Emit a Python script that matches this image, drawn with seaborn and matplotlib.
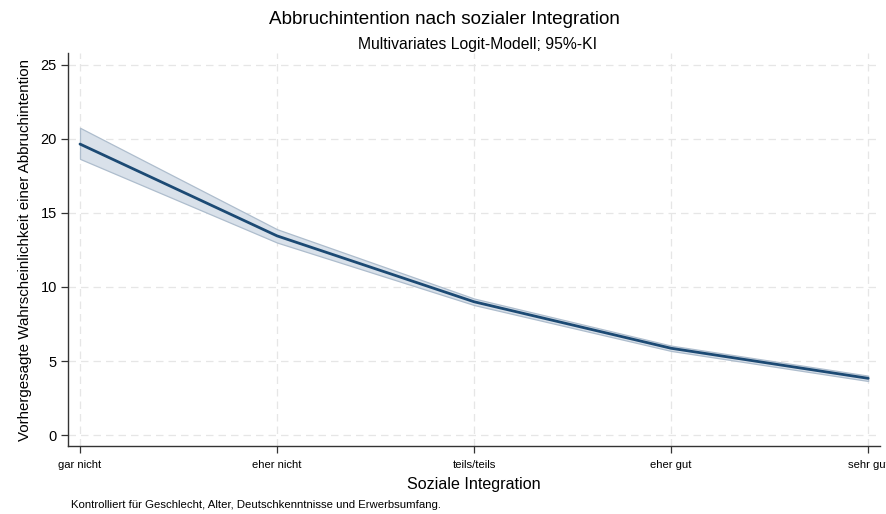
import matplotlib
matplotlib.use("Agg")
import matplotlib.pyplot as plt
import seaborn as sns
import pandas as pd
import numpy as np

# Predicted probabilities (%) with 95% confidence bounds
categories = ["gar nicht", "eher nicht", "teils/teils", "eher gut", "sehr gut"]
predicted = [19.65, 13.45, 9.0, 5.86, 3.83]
ci_lower = [18.65, 13.0, 8.78, 5.68, 3.65]
ci_upper = [20.75, 13.9, 9.22, 6.04, 4.01]
y_ticks = [0, 5, 10, 15, 20, 25]

df = pd.DataFrame({
    "pos": np.arange(len(categories)),
    "pred": predicted,
    "lo": ci_lower,
    "hi": ci_upper,
})

sns.set_theme(style="white")
plt.rcParams["font.family"] = ["Liberation Sans", "DejaVu Sans"]
plt.rcParams["text.color"] = "black"
plt.rcParams["axes.labelcolor"] = "black"
plt.rcParams["xtick.color"] = "black"
plt.rcParams["ytick.color"] = "black"

fig = plt.figure(figsize=(8.87, 5.14), dpi=100)
ax = fig.add_axes([68 / 887, 1 - 446 / 514, (880 - 68) / 887, (446 - 53) / 514])

navy = "#1c4a74"
ax.fill_between(df["pos"], df["lo"], df["hi"], facecolor="#d9e1ea",
                edgecolor="#aebdcd", linewidth=0.9, zorder=2)
sns.lineplot(data=df, x="pos", y="pred", ax=ax, color=navy, linewidth=2.0,
             zorder=3, errorbar=None)

ax.set_xlim(-0.061, 4.06)
ax.set_ylim(-0.74, 25.8)
ax.set_xticks(df["pos"])
ax.set_xticklabels(categories, fontsize=8.1)
ax.set_yticks(y_ticks)
ax.set_yticklabels([str(t) for t in y_ticks], fontsize=10.5)

ax.grid(True, linestyle=(0, (6, 4)), color="#e6e6e6", linewidth=0.9)
ax.set_axisbelow(True)
for side in ["top", "right"]:
    ax.spines[side].set_visible(False)
for side in ["left", "bottom"]:
    ax.spines[side].set_color("#333333")
    ax.spines[side].set_linewidth(1.0)
ax.tick_params(axis="both", which="both", length=5, width=0.9, color="#333333",
               bottom=True, left=True, pad=3)
ax.tick_params(axis="x", pad=5)

ax.set_xlabel("Soziale Integration", fontsize=11.6, labelpad=5)
ax.set_ylabel("Vorhergesagte Wahrscheinlichkeit einer Abbruchintention", fontsize=10.9, labelpad=6)

fig.text(444 / 887, 1 - 19 / 514, "Abbruchintention nach sozialer Integration",
         ha="center", va="center", fontsize=13.6)
fig.text(478 / 887, 1 - 44 / 514, "Multivariates Logit-Modell; 95%-KI",
         ha="center", va="center", fontsize=11.3)
fig.text(71 / 887, 1 - 505 / 514,
         "Kontrolliert für Geschlecht, Alter, Deutschkenntnisse und Erwerbsumfang.",
         ha="left", va="center", fontsize=8.2)

fig.savefig("out.png", dpi=100)
